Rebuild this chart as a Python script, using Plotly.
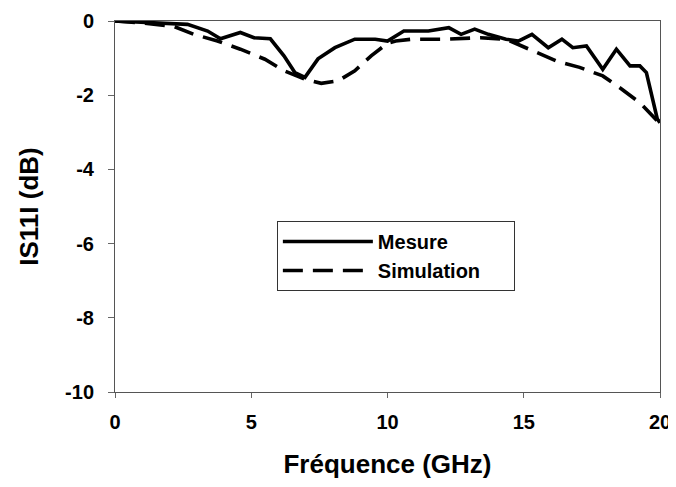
import plotly.graph_objects as go

# Measured |S11| (dB)
mes_f = [0, 1.0, 2.0, 2.66, 3.4, 3.87, 4.6, 5.1, 5.7, 6.2, 6.6, 6.97, 7.45, 8.07, 8.8, 9.55,
         10.0, 10.6, 11.5, 12.25, 12.7, 13.2, 13.7, 14.35, 14.8, 15.3, 15.9, 16.4, 16.8,
         17.3, 17.9, 18.4, 18.9, 19.26, 19.5, 19.9, 20.0]
mes_db = [0, -0.03, -0.06, -0.09, -0.27, -0.48, -0.31, -0.45, -0.48, -0.94, -1.39, -1.52,
          -1.02, -0.72, -0.49, -0.49, -0.54, -0.27, -0.27, -0.18, -0.36, -0.22, -0.36,
          -0.49, -0.54, -0.36, -0.72, -0.49, -0.72, -0.67, -1.3, -0.76, -1.21, -1.21,
          -1.39, -2.64, -2.74]

# Simulated |S11| (dB)
sim_f = [0, 1.0, 2.17, 2.9, 3.76, 4.6, 5.5, 6.2, 6.97, 7.57, 8.2, 8.8, 9.4, 10.0, 10.3,
         10.9, 12.1, 13.4, 14.35, 15.2, 16.2, 17.05, 17.9, 18.6, 19.26, 19.9, 20.0]
sim_db = [0, -0.05, -0.15, -0.36, -0.54, -0.76, -1.03, -1.34, -1.57, -1.68, -1.61, -1.34,
          -0.94, -0.6, -0.54, -0.49, -0.49, -0.45, -0.49, -0.76, -1.08, -1.25, -1.48,
          -1.84, -2.2, -2.69, -2.76]

x_ticks = [0, 5, 10, 15, 20]
y_ticks = [0, -2, -4, -6, -8, -10]

FONT = "Liberation Sans, Arial, sans-serif"

fig = go.Figure()
fig.add_trace(go.Scatter(x=mes_f, y=mes_db, mode="lines", name="<b>Mesure</b>",
                         line=dict(color="black", width=3.6)))
fig.add_trace(go.Scatter(x=sim_f, y=sim_db, mode="lines",
                         name="<b>Simulation</b>&nbsp;&nbsp;&nbsp;&nbsp;&nbsp;",
                         line=dict(color="black", width=3.6, dash="20px,10px")))

fig.update_layout(
    width=676, height=487,
    margin=dict(l=107, r=24, t=13, b=103),
    paper_bgcolor="white", plot_bgcolor="white",
    font=dict(family=FONT, color="black"),
    showlegend=True,
    legend=dict(x=0.297, y=0.461, xanchor="left", yanchor="top",
                bgcolor="white", bordercolor="#333333", borderwidth=1,
                font=dict(size=20, family=FONT, color="black"),
                itemwidth=90, tracegroupgap=0),
)
fig.update_xaxes(
    range=[0, 20], tickvals=x_ticks, ticktext=[f"<b>{v}</b>" for v in x_ticks],
    ticks="outside", ticklen=5, tickwidth=1, tickcolor="#666666",
    showline=True, linecolor="#555555", linewidth=1, mirror=True,
    showgrid=False, zeroline=False, automargin=False, ticklabelstandoff=7,
    tickfont=dict(size=20, family=FONT),
    title=dict(text="<b>Fréquence (GHz)</b>", font=dict(size=26, family=FONT), standoff=22),
)
fig.update_yaxes(
    range=[-10, 0], tickvals=y_ticks, ticktext=[f"<b>{v}</b>" for v in y_ticks],
    ticks="outside", ticklen=6, tickwidth=1, tickcolor="#666666",
    showline=True, linecolor="#555555", linewidth=1, mirror=True,
    showgrid=False, zeroline=False, automargin=False, ticklabelstandoff=10,
    tickfont=dict(size=20, family=FONT),
    title=dict(text="<b>IS11I (dB)</b>", font=dict(size=26, family=FONT), standoff=18),
)

fig.write_html("out.html")
